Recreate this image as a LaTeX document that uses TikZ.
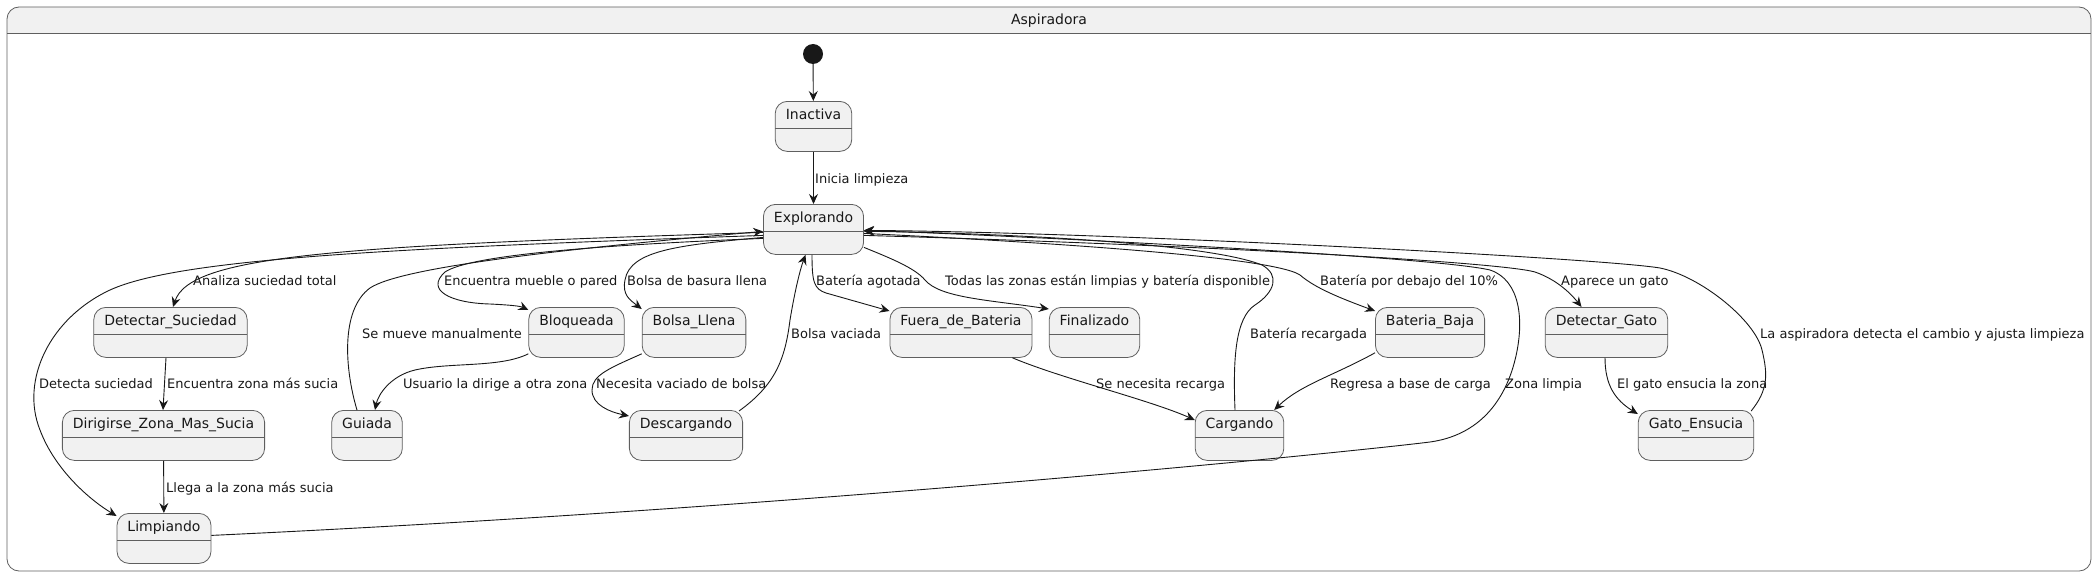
\documentclass[tikz,border=0pt]{standalone}
\usepackage{fontspec}
\setmainfont{DejaVu Sans}
\usetikzlibrary{arrows.meta}

\definecolor{boxfill}{HTML}{F1F1F1}
\definecolor{ink}{HTML}{181818}
\definecolor{rim}{HTML}{5F5F5F}

\tikzset{
  stbox/.style={draw=rim, fill=boxfill, line width=0.8pt, rounded corners=12pt,
    inner xsep=10.5pt, inner ysep=0pt, text height=18pt, text depth=32pt,
    anchor=north, text=ink, font=\fontsize{14}{16}\selectfont,
    path picture={\draw[rim, line width=0.8pt]
      ([yshift=-27pt]path picture bounding box.north west) --
      ([yshift=-27pt]path picture bounding box.north east);}},
  lbl/.style={anchor=west, inner sep=0pt, text height=10pt, text depth=0pt,
    text=ink, font=\fontsize{13}{15}\selectfont},
  tr/.style={draw=ink, line width=0.9pt,
    -{Stealth[length=10pt,width=9pt,inset=3.5pt]}},
}

\begin{document}
\begin{tikzpicture}[x=1pt, y=-1pt]
  \useasboundingbox (0,0) rectangle (2098,578);
  % frame of the composite state
  \begin{scope}
    \clip (0,0) rectangle (2098,33);
    \fill[boxfill, rounded corners=12pt] (7,7) rectangle (2091,571);
  \end{scope}
  \draw[rim, line width=0.8pt, rounded corners=12pt] (7,7) rectangle (2091,571);
  \draw[rim, line width=0.8pt] (7,33) -- (2091,33);
  \node[text=ink, font=\fontsize{14}{16}\selectfont] (ttl) at (1049,21) {Aspiradora};

  % states
  \node[circle, fill=ink, inner sep=0pt, minimum size=20pt] (ini) at (813,54) {};
  \node[stbox] (inact)  at (813.5,101) {Inactiva};
  \node[stbox] (explo)  at (813.5,204) {Explorando};
  \node[stbox] (dsuc)   at (170.5,307) {Detectar\_Suciedad};
  \node[stbox] (dirig)  at (163.5,410) {Dirigirse\_Zona\_Mas\_Sucia};
  \node[stbox] (limp)   at (164,513)   {Limpiando};
  \node[stbox] (guia)   at (367,410)   {Guiada};
  \node[stbox] (bloq)   at (576.5,307) {Bloqueada};
  \node[stbox] (bolsa)  at (694,307)   {Bolsa\_Llena};
  \node[stbox] (desc)   at (686,410)   {Descargando};
  \node[stbox] (fuera)  at (961,307)   {Fuera\_de\_Bateria};
  \node[stbox] (fin)    at (1094.5,307) {Finalizado};
  \node[stbox] (carga)  at (1239.5,410) {Cargando};
  \node[stbox] (bbaja)  at (1430,307)  {Bateria\_Baja};
  \node[stbox] (dgato)  at (1606.5,307) {Detectar\_Gato};
  \node[stbox] (gens)   at (1696,410)  {Gato\_Ensucia};

  % transitions
  \draw[tr] (ini) -- (inact);
  \draw[tr] (inact) -- (explo);
  \draw[tr] ([yshift=-3pt]explo.west) .. controls (330,246) and (190,256) .. ([xshift=2.5pt]dsuc.north);
  \draw[tr] ([xshift=-4.5pt]dsuc.south) -- ([xshift=-0.5pt]dirig.north);
  \draw[tr] (dirig) -- (limp);
  \draw[tr] ([yshift=-6pt]explo.west) .. controls (400,248) and (180,258) .. (110,290)
            .. controls (50,318) and (20,380) .. (40,430)
            .. controls (55,470) and (90,500) .. ([yshift=-3pt]limp.north west);
  \draw[tr] ([yshift=3pt]limp.east) .. controls (800,508) and (1350,452) .. (1430,442)
            .. controls (1480,435) and (1505,400) .. (1515,360)
            .. controls (1525,320) and (1520,280) .. (1490,270)
            .. controls (1430,256) and (1000,235) .. ([yshift=-1pt]explo.east);
  \draw[tr] ([yshift=-9pt]explo.west) .. controls (600,245) and (470,255) .. (445,272)
            .. controls (425,290) and (450,303) .. (490,304)
            .. controls (510,305) and (520,306) .. ([yshift=-3pt]bloq.north west);
  \draw[tr] ([yshift=4pt]bloq.south west) .. controls (500,368) and (450,362) .. (415,370)
            .. controls (390,376) and (378,395) .. ([xshift=8pt]guia.north);
  \draw[tr] ([xshift=-10pt]guia.north) .. controls (345,370) and (340,310) .. (370,288)
            .. controls (400,268) and (550,250) .. ([yshift=-2pt]explo.west);
  \draw[tr] ([yshift=-8pt]explo.west) .. controls (680,245) and (630,250) .. (625,280)
            .. controls (622,295) and (630,300) .. ([yshift=-2pt]bolsa.north west);
  \draw[tr] ([yshift=4pt]bolsa.south west) .. controls (610,368) and (592,375) .. (592,390)
            .. controls (592,405) and (610,412) .. ([yshift=-6pt]desc.north west);
  \draw[tr] ([xshift=-4pt,yshift=-1pt]desc.north east) .. controls (775,385) and (785,360) .. (790,320)
            .. controls (795,290) and (800,270) .. ([xshift=-8pt]explo.south);
  \draw[tr] ([xshift=-1.5pt]explo.south) .. controls (812,282) and (814,289) .. (826,293)
            -- ([yshift=-4pt]fuera.north west);
  \draw[tr] ([xshift=-20pt]fuera.south east) .. controls (1060,378) and (1150,400) .. ([yshift=-10pt]carga.north west);
  \draw[tr] ([xshift=-4.5pt]carga.north) .. controls (1233,360) and (1235,318) .. (1255,305)
            .. controls (1275,292) and (1280,275) .. (1262,265)
            .. controls (1200,240) and (950,232) .. ([yshift=-2pt]explo.east);
  \draw[tr] ([yshift=-18pt]explo.east) .. controls (890,258) and (915,268) .. (925,280)
            .. controls (940,298) and (990,300) .. ([yshift=-2pt]fin.north west);
  \draw[tr] ([yshift=-4pt]explo.east) .. controls (1000,240) and (1270,255) .. (1300,275)
            .. controls (1315,288) and (1340,298) .. ([yshift=-4pt]bbaja.north west);
  \draw[tr] ([yshift=5pt]bbaja.south west) .. controls (1335,375) and (1300,385) .. ([xshift=-10pt]carga.north east);
  \draw[tr] ([yshift=-6pt]explo.east) .. controls (1200,245) and (1500,262) .. (1535,272)
            .. controls (1558,280) and (1572,295) .. ([xshift=-25pt]dgato.north);
  \draw[tr] ([xshift=-1.5pt]dgato.south) .. controls (1605,385) and (1615,400) .. ([yshift=-4pt]gens.north west);
  \draw[tr] ([xshift=-3pt,yshift=-1pt]gens.north east) .. controls (1768,390) and (1768,375) .. (1762,350)
            .. controls (1755,320) and (1700,276) .. (1660,268)
            .. controls (1600,258) and (1100,232) .. ([yshift=-1pt]explo.east);

  % transition labels
  \node[lbl] (t1)  at (815,178)  {Inicia limpieza};
  \node[lbl] (t2)  at (193,280)  {Analiza suciedad total};
  \node[lbl] (t3)  at (444,280)  {Encuentra mueble o pared};
  \node[lbl] (t4)  at (627,280)  {Bolsa de basura llena};
  \node[lbl] (t5)  at (816,280)  {Batería agotada};
  \node[lbl] (t6)  at (945,280)  {Todas las zonas están limpias y batería disponible};
  \node[lbl] (t7)  at (1320,280) {Batería por debajo del 10\%};
  \node[lbl] (t8)  at (1561,280) {Aparece un gato};
  \node[lbl] (t9)  at (362,333)  {Se mueve manualmente};
  \node[lbl] (t10) at (791,333)  {Bolsa vaciada};
  \node[lbl] (t11) at (1250,333) {Batería recargada};
  \node[lbl] (t12) at (1760,333) {La aspiradora detecta el cambio y ajusta limpieza};
  \node[lbl] (t13) at (39,383)   {Detecta suciedad};
  \node[lbl] (t14) at (167,383)  {Encuentra zona más sucia};
  \node[lbl] (t15) at (403,383)  {Usuario la dirige a otra zona};
  \node[lbl] (t16) at (596,383)  {Necesita vaciado de bolsa};
  \node[lbl] (t17) at (1096,383) {Se necesita recarga};
  \node[lbl] (t18) at (1330,383) {Regresa a base de carga};
  \node[lbl] (t19) at (1505,383) {Zona limpia};
  \node[lbl] (t20) at (1617,383) {El gato ensucia la zona};
  \node[lbl] (t21) at (166,487)  {Llega a la zona más sucia};
\end{tikzpicture}
\end{document}
